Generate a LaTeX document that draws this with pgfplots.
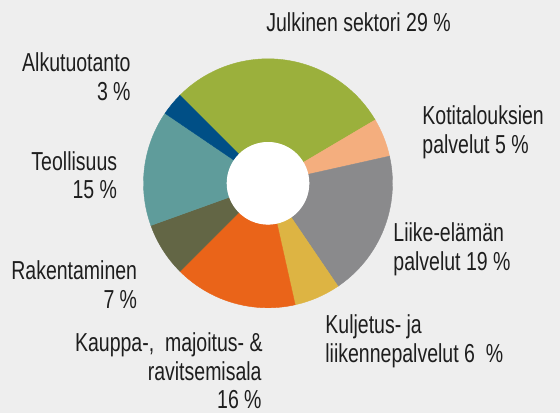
\documentclass[border=0pt]{standalone}
\usepackage{pgfplots}
\pgfplotsset{compat=1.18}
\usepackage{pgfplotstable}
\usepackage{fontspec}
\setmainfont{Liberation Sans}[FakeStretch=0.75]

\definecolor{bg}{HTML}{EEEEEE}
\definecolor{c1}{HTML}{9BB03C}
\definecolor{c2}{HTML}{F4AE7E}
\definecolor{c3}{HTML}{8A8A8C}
\definecolor{c4}{HTML}{DDB443}
\definecolor{c5}{HTML}{EA6419}
\definecolor{c6}{HTML}{636645}
\definecolor{c7}{HTML}{5F9C9B}
\definecolor{c8}{HTML}{004F86}
\definecolor{txt}{HTML}{1E1E1E}

% sector shares (%), clockwise from 135 degrees
\pgfplotstableread{
idx value color
0 29 c1
1 5 c2
2 19 c3
3 6 c4
4 16 c5
5 7 c6
6 15 c7
7 3 c8
}\sectors

\tikzset{lbl/.style={font=\fontsize{13}{15}\selectfont, text=txt, inner sep=0pt}}

\begin{document}
\begin{tikzpicture}
\begin{axis}[hide axis, scale only axis, width=280pt, height=206.5pt,
  xmin=0, xmax=560, ymin=0, ymax=413, clip=false]
\fill[bg] (axis cs:0,0) rectangle (axis cs:560,413);
\pgfplotstablegetrowsof{\sectors}
\pgfmathtruncatemacro{\nrows}{\pgfplotsretval-1}
\gdef\curang{135}
\pgfplotsforeachungrouped \i in {0,...,\nrows}{%
  \pgfplotstablegetelem{\i}{value}\of\sectors \let\val\pgfplotsretval
  \pgfplotstablegetelem{\i}{color}\of\sectors \let\col\pgfplotsretval
  \pgfmathsetmacro{\endang}{\curang-3.6*\val}%
  \edef\cmd{\noexpand\fill[\col, draw=\col, line width=0.2pt, shift={(axis cs:268,229.7)}]
    (\curang:62.25pt) arc[start angle=\curang, end angle=\endang, radius=62.25pt]
    -- (\endang:20.65pt) arc[start angle=\endang, end angle=\curang, radius=20.65pt] -- cycle;}%
  \cmd
  \global\let\curang\endang
}
\fill[white] (axis cs:268,229.7) circle[radius=20.65pt];

\node[lbl, anchor=base west] at (axis cs:266,381.5) {Julkinen sektori 29 \%};
\node[lbl, anchor=base east] at (axis cs:131,342) {Alkutuotanto};
\node[lbl, anchor=base east] at (axis cs:131,313) {3 \%};
\node[lbl, anchor=base west] at (axis cs:422,288.5) {Kotitalouksien};
\node[lbl, anchor=base west] at (axis cs:422,260) {palvelut 5 \%};
\node[lbl, anchor=base east] at (axis cs:117.5,243) {Teollisuus};
\node[lbl, anchor=base east] at (axis cs:117.5,214.5) {15 \%};
\node[lbl, anchor=base east] at (axis cs:137.5,134) {Rakentaminen};
\node[lbl, anchor=base east] at (axis cs:137.5,105) {7 \%};
\node[lbl, anchor=base west] at (axis cs:393,171.5) {Liike-elämän};
\node[lbl, anchor=base west] at (axis cs:393,143) {palvelut 19 \%};
\node[lbl, anchor=base west] at (axis cs:325,79.5) {Kuljetus- ja};
\node[lbl, anchor=base west] at (axis cs:325,50.5) {liikennepalvelut 6~~\%};
\node[lbl, anchor=base east] at (axis cs:263,61.5) {Kauppa-,~~majoitus- \&};
\node[lbl, anchor=base east] at (axis cs:262,33) {ravitsemisala};
\node[lbl, anchor=base east] at (axis cs:262,4.5) {16 \%};
\end{axis}
\end{tikzpicture}
\end{document}
